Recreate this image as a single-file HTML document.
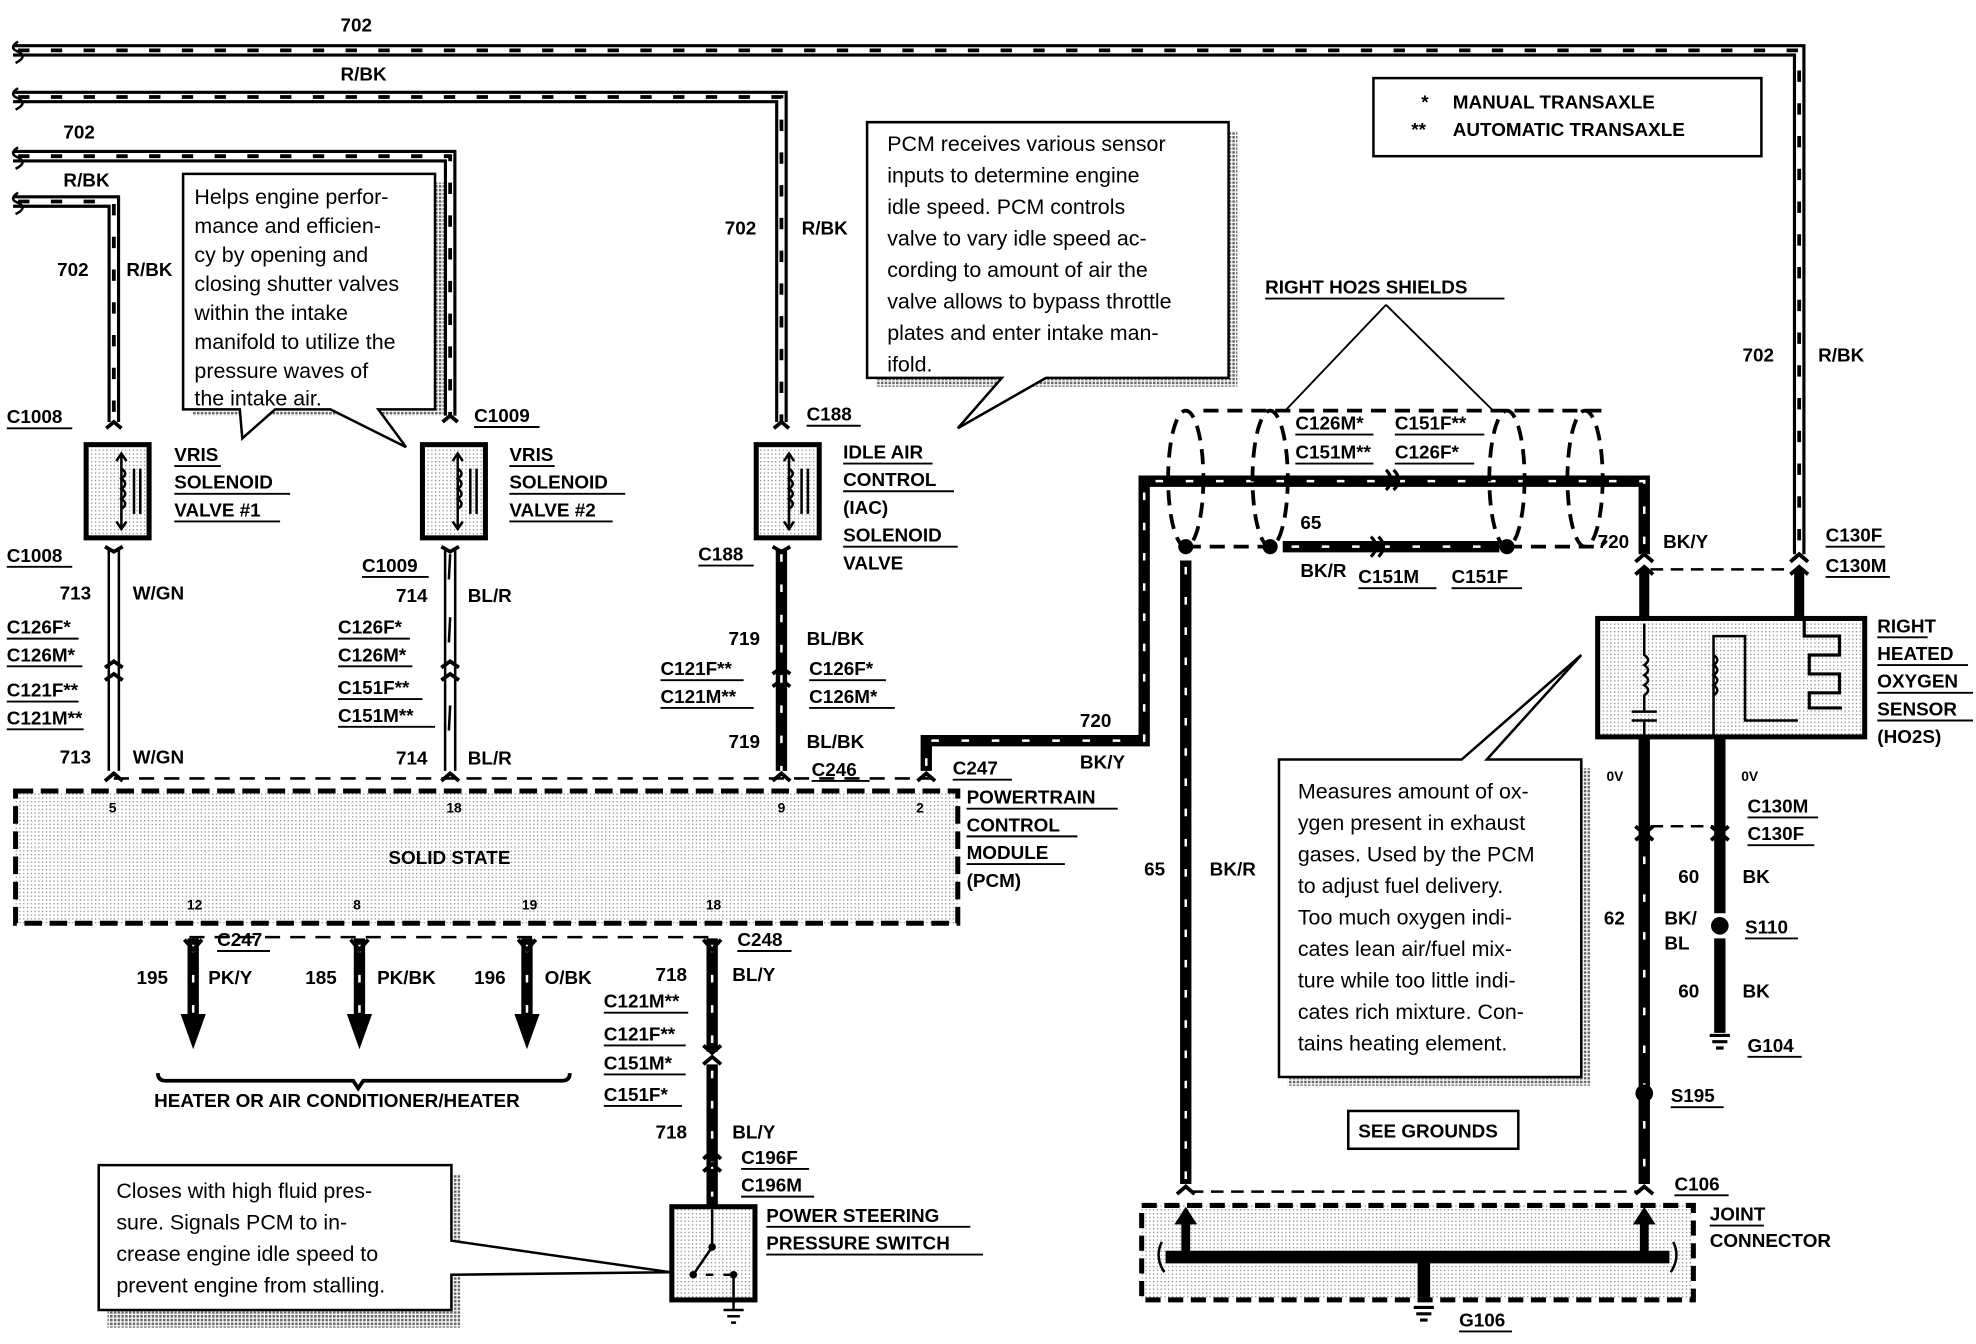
<!DOCTYPE html>
<html><head><meta charset="utf-8"><style>
html,body{margin:0;padding:0;background:#fff;}
svg{display:block;}
text{font-family:"Liberation Sans",sans-serif;fill:#000;}
.b{font-weight:bold;font-size:15px;}
.c{font-size:17px;}
.s{font-size:11px;font-weight:bold;}
</style></head><body>
<svg width="1976" height="1344" viewBox="0 0 1568 1067" xmlns="http://www.w3.org/2000/svg">
<defs>
<pattern id="dot" width="3" height="3" patternUnits="userSpaceOnUse"><rect width="3" height="3" fill="#fff"/><rect width="1" height="1" fill="#888"/></pattern>
<pattern id="sh" width="3" height="3" patternUnits="userSpaceOnUse"><rect width="3" height="3" fill="#fff"/><rect width="2" height="2" fill="#666"/></pattern>
</defs>
<rect width="1568" height="1067" fill="#fff"/>

<g fill="none" stroke-linejoin="miter">
<g stroke="#000" stroke-width="10">
<path d="M10 40 H1428 V440"/>
<path d="M10 77 H620 V335"/>
<path d="M10 124 H357 V330"/>
<path d="M10 160 H90 V335"/>
</g>
<g stroke="#fff" stroke-width="5">
<path d="M10 40 H1428 V440"/>
<path d="M10 77 H620 V335"/>
<path d="M10 124 H357 V330"/>
<path d="M10 160 H90 V335"/>
</g>
<g stroke="#000" stroke-width="3" stroke-dasharray="9 17">
<path d="M14 40 H1428 V440"/>
<path d="M14 77 H620 V335"/>
<path d="M14 124 H357 V330"/>
<path d="M14 160 H90 V335"/>
</g>
</g>
<g fill="none" stroke="#000" stroke-width="2">
<path d="M14 33 q-8 5 0 8 q8 4 -2 9"/>
<path d="M14 70 q-8 5 0 8 q8 4 -2 9"/>
<path d="M14 117 q-8 5 0 8 q8 4 -2 9"/>
<path d="M14 153 q-8 5 0 8 q8 4 -2 9"/>
</g>

<text class="b" x="270" y="25">702</text>
<text class="b" x="270" y="64">R/BK</text>
<text class="b" x="50" y="110">702</text>
<text class="b" x="50" y="148">R/BK</text>
<text class="b" x="45" y="219">702</text>
<text class="b" x="100" y="219">R/BK</text>
<text class="b" x="575" y="186">702</text>
<text class="b" x="636" y="186">R/BK</text>
<text class="b" x="1383" y="287">702</text>
<text class="b" x="1443" y="287">R/BK</text>

<rect x="1090" y="62" width="308" height="62" fill="#fff" stroke="#000" stroke-width="2"/>
<text class="b" x="1128" y="86">*</text><text class="b" x="1153" y="86">MANUAL TRANSAXLE</text>
<text class="b" x="1120" y="108">**</text><text class="b" x="1153" y="108">AUTOMATIC TRANSAXLE</text>

<rect x="152" y="145" width="200" height="185" fill="url(#sh)"/>
<path d="M145 138 H345 V325 H300 L322 355 L262 325 H218 L192 348 L190 325 H145 Z" fill="#fff" stroke="#000" stroke-width="2"/>
<text class="c" x="154" y="162">Helps engine perfor-</text>
<text class="c" x="154" y="185">mance  and efficien-</text>
<text class="c" x="154" y="208">cy by opening and</text>
<text class="c" x="154" y="231">closing shutter valves</text>
<text class="c" x="154" y="254">within the intake</text>
<text class="c" x="154" y="277">manifold to utilize the</text>
<text class="c" x="154" y="300">pressure waves of</text>
<text class="c" x="154" y="322">the intake air.</text>

<rect x="695" y="104" width="287" height="203" fill="url(#sh)"/>
<path d="M688 97 H975 V300 H830 L760 340 L795 300 H688 Z" fill="#fff" stroke="#000" stroke-width="2"/>
<text class="c" x="704" y="120">PCM receives various sensor</text>
<text class="c" x="704" y="145">inputs to determine engine</text>
<text class="c" x="704" y="170">idle speed.  PCM controls</text>
<text class="c" x="704" y="195">valve to vary idle speed ac-</text>
<text class="c" x="704" y="220">cording to amount of air the</text>
<text class="c" x="704" y="245">valve allows to bypass throttle</text>
<text class="c" x="704" y="270">plates and enter intake man-</text>
<text class="c" x="704" y="295">ifold.</text>

<g stroke="#000">
<rect x="68" y="353" width="50" height="74" fill="url(#dot)" stroke-width="4"/>
<rect x="335" y="353" width="50" height="74" fill="url(#dot)" stroke-width="4"/>
<rect x="600" y="353" width="50" height="74" fill="url(#dot)" stroke-width="4"/>
</g>
<g fill="none" stroke="#000" stroke-width="2">
<path d="M96 360 V420 M92 366 l4 -6 4 6 M92 414 l4 6 4 -6 M96 372 q6 4 0 8 q6 4 0 8 q6 4 0 8 q6 4 0 8"/>
<path d="M106 372 V408 M111 372 V408"/>
<path d="M363 360 V420 M359 366 l4 -6 4 6 M359 414 l4 6 4 -6 M363 372 q6 4 0 8 q6 4 0 8 q6 4 0 8 q6 4 0 8"/>
<path d="M373 372 V408 M378 372 V408"/>
<path d="M626 360 V420 M622 366 l4 -6 4 6 M622 414 l4 6 4 -6 M626 372 q6 4 0 8 q6 4 0 8 q6 4 0 8 q6 4 0 8"/>
<path d="M636 372 V408 M641 372 V408"/>
</g>
<g fill="none" stroke="#000" stroke-width="3">
<path d="M84 340 l6 -5 6 5 M351 335 l6 -5 6 5 M614 340 l6 -5 6 5 M1422 445 l6 -5 6 5"/>
</g>

<text class="b" x="5" y="336">C1008</text>
<text class="b" x="376" y="335">C1009</text>
<text class="b" x="640" y="334">C188</text>
<text class="b" x="138" y="366">VRIS</text>
<text class="b" x="138" y="388">SOLENOID</text>
<text class="b" x="138" y="410">VALVE #1</text>
<text class="b" x="404" y="366">VRIS</text>
<text class="b" x="404" y="388">SOLENOID</text>
<text class="b" x="404" y="410">VALVE #2</text>
<text class="b" x="669" y="364">IDLE AIR</text>
<text class="b" x="669" y="386">CONTROL</text>
<text class="b" x="669" y="408">(IAC)</text>
<text class="b" x="669" y="430">SOLENOID</text>
<text class="b" x="669" y="452">VALVE</text>
<g stroke="#000" stroke-width="1.5">
<path d="M5 340 H57 M376 339 H428 M640 338 H683 M138 370 H175 M138 392 H230 M138 414 H222 M404 370 H440 M404 392 H496 M404 414 H486 M669 368 H740 M669 390 H757 M669 434 H760"/>
</g>

<g fill="none" stroke="#000" stroke-width="2">
<path d="M86 436 V612 M94 436 V612"/>
<path d="M353 436 V612 M361 436 V612"/>
</g>
<path d="M357 440 l-1 20 M357 490 l-1 20 M357 560 l-1 20" stroke="#000" stroke-width="2"/>
<g fill="none" stroke="#000" stroke-width="3">
<path d="M83 434 l7 4 7 -4 M83 530 l7 -5 7 5 M83 540 l7 -5 7 5 M83 620 l7 -6 7 6"/>
<path d="M350 434 l7 4 7 -4 M350 530 l7 -5 7 5 M350 540 l7 -5 7 5 M350 620 l7 -6 7 6"/>
<path d="M613 434 l7 4 7 -4 M613 535 l7 -5 7 5 M613 545 l7 -5 7 5 M613 620 l7 -6 7 6 M728 620 l7 -6 7 6"/>
</g>
<g fill="none" stroke="#000" stroke-width="9">
<path d="M620 436 V612"/>
<path d="M735 612 V588 H908 V382 H1305 V440"/>
<path d="M565 745 V835 M565 845 V957"/>
<path d="M153 745 V805 M285 745 V805 M418 745 V805"/>
</g>
<g fill="none" stroke="#fff" stroke-width="2" stroke-dasharray="6 18">
<path d="M620 440 V612"/>
<path d="M735 608 V588 H908 V382 H1305 V440"/>
<path d="M565 750 V835 M565 850 V950"/>
<path d="M153 750 V805 M285 750 V805 M418 750 V805"/>
</g>
<path d="M90 618 H740 M150 744 H565" stroke="#000" stroke-width="2" stroke-dasharray="12 8" fill="none"/>
<g fill="#000"><path d="M143 805 h20 l-10 28 z"/><path d="M275 805 h20 l-10 28 z"/><path d="M408 805 h20 l-10 28 z"/></g>
<path d="M125 852 q0 6 6 6 H280 l4 6 4 -6 H446 q6 0 6 -6" fill="none" stroke="#000" stroke-width="3"/>
<g fill="none" stroke="#000" stroke-width="3"><path d="M146 746 l7 8 7 -8 M278 746 l7 8 7 -8 M411 746 l7 8 7 -8 M558 746 l7 8 7 -8 M558 830 l7 6 7 -6 M558 845 l7 -6 7 6 M558 920 l7 -6 7 6"/></g>
<path d="M558 930 l7 -6 7 6" fill="none" stroke="#000" stroke-width="3"/>

<rect x="12" y="628" width="748" height="105" fill="url(#dot)" stroke="#000" stroke-width="4" stroke-dasharray="14 6"/>
<text class="b" x="308" y="686">SOLID STATE</text>
<text class="s" x="86" y="645">5</text><text class="s" x="354" y="645">18</text><text class="s" x="617" y="645">9</text><text class="s" x="727" y="645">2</text>
<text class="s" x="148" y="722">12</text><text class="s" x="280" y="722">8</text><text class="s" x="414" y="722">19</text><text class="s" x="560" y="722">18</text>
<text class="b" x="767" y="638">POWERTRAIN</text>
<text class="b" x="767" y="660">CONTROL</text>
<text class="b" x="767" y="682">MODULE</text>
<text class="b" x="767" y="704">(PCM)</text>
<path d="M767 642 H887 M767 664 H855 M767 686 H845" stroke="#000" stroke-width="1.5"/>

<text class="b" x="47" y="476">713</text><text class="b" x="105" y="476">W/GN</text>
<text class="b" x="5" y="503">C126F*</text><text class="b" x="5" y="525">C126M*</text>
<text class="b" x="5" y="553">C121F**</text><text class="b" x="5" y="575">C121M**</text>
<text class="b" x="47" y="606">713</text><text class="b" x="105" y="606">W/GN</text>
<text class="b" x="5" y="446">C1008</text>
<text class="b" x="287" y="454">C1009</text>
<text class="b" x="314" y="478">714</text><text class="b" x="371" y="478">BL/R</text>
<text class="b" x="268" y="503">C126F*</text><text class="b" x="268" y="525">C126M*</text>
<text class="b" x="268" y="551">C151F**</text><text class="b" x="268" y="573">C151M**</text>
<text class="b" x="314" y="607">714</text><text class="b" x="371" y="607">BL/R</text>
<text class="b" x="554" y="445">C188</text>
<text class="b" x="578" y="512">719</text><text class="b" x="640" y="512">BL/BK</text>
<text class="b" x="524" y="536">C121F**</text><text class="b" x="524" y="558">C121M**</text>
<text class="b" x="642" y="536">C126F*</text><text class="b" x="642" y="558">C126M*</text>
<text class="b" x="578" y="594">719</text><text class="b" x="640" y="594">BL/BK</text>
<text class="b" x="644" y="616">C246</text>
<text class="b" x="756" y="615">C247</text>
<text class="b" x="857" y="577">720</text>
<text class="b" x="857" y="610">BK/Y</text>
<g stroke="#000" stroke-width="1.5">
<path d="M5 450 H57 M5 507 H62 M5 529 H65 M5 557 H62 M5 579 H66 M287 458 H340 M268 507 H325 M268 529 H327 M268 555 H335 M268 577 H345 M554 449 H598 M524 540 H590 M524 562 H598 M642 540 H703 M642 562 H710 M644 620 H690 M756 619 H803"/>
</g>
<text class="b" x="172" y="751">C247</text>
<text class="b" x="108" y="781">195</text><text class="b" x="165" y="781">PK/Y</text>
<text class="b" x="242" y="781">185</text><text class="b" x="299" y="781">PK/BK</text>
<text class="b" x="376" y="781">196</text><text class="b" x="432" y="781">O/BK</text>
<text class="b" x="585" y="751">C248</text>
<text class="b" x="520" y="779">718</text><text class="b" x="581" y="779">BL/Y</text>
<text class="b" x="479" y="800">C121M**</text>
<text class="b" x="479" y="826">C121F**</text>
<text class="b" x="479" y="849">C151M*</text>
<text class="b" x="479" y="874">C151F*</text>
<text class="b" x="122" y="879">HEATER OR AIR CONDITIONER/HEATER</text>
<text class="b" x="520" y="904">718</text><text class="b" x="581" y="904">BL/Y</text>
<text class="b" x="588" y="924">C196F</text>
<text class="b" x="588" y="946">C196M</text>
<text class="b" x="608" y="970">POWER STEERING</text>
<text class="b" x="608" y="992">PRESSURE SWITCH</text>
<g stroke="#000" stroke-width="1.5">
<path d="M172 755 H214 M585 755 H628 M479 804 H546 M479 830 H544 M479 853 H544 M479 878 H541 M588 928 H642 M588 950 H646 M608 974 H770 M608 996 H780"/>
</g>
<rect x="533" y="958" width="66" height="74" fill="url(#dot)" stroke="#000" stroke-width="4"/>
<path d="M565 960 V990 L550 1012 M582 1030 V1012 h-8 M560 1012 h6" stroke="#000" stroke-width="2" fill="none"/>
<circle cx="565" cy="990" r="3"/><circle cx="550" cy="1012" r="3"/><circle cx="582" cy="1012" r="3"/>
<path d="M574 1040 h16 M577 1045 h10 M580 1050 h4 M582 1032 v8" stroke="#000" stroke-width="2"/>
<rect x="85" y="932" width="280" height="122" fill="url(#sh)"/>
<path d="M78 925 H358 V985 L532 1010 L358 1012 V1040 H78 Z" fill="#fff" stroke="#000" stroke-width="2"/>
<text class="c" x="92" y="951">Closes with high fluid pres-</text>
<text class="c" x="92" y="976">sure.  Signals PCM to in-</text>
<text class="c" x="92" y="1001">crease engine idle speed to</text>
<text class="c" x="92" y="1026">prevent engine from stalling.</text>

<text class="b" x="1004" y="233">RIGHT HO2S SHIELDS</text>
<path d="M1004 237 H1194" stroke="#000" stroke-width="1.5"/>
<path d="M1100 242 L1020 326 M1100 242 L1185 326" stroke="#000" stroke-width="1.5"/>
<g fill="none" stroke="#000" stroke-width="3" stroke-dasharray="12 7">
<path d="M955 326 H1275"/>
<ellipse cx="941" cy="380" rx="14" ry="54"/>
<ellipse cx="1008" cy="380" rx="14" ry="54"/>
<ellipse cx="1196" cy="380" rx="14" ry="54"/>
<ellipse cx="1258" cy="380" rx="14" ry="54"/>
<path d="M941 434 H1008 M1196 434 H1270 l5 -5"/>
</g>
<g fill="none" stroke="#000" stroke-width="9"><path d="M1018 434 H1190"/><path d="M941 445 V940"/></g>
<path d="M941 450 V940 M1025 434 H1190" stroke="#fff" stroke-width="2" stroke-dasharray="6 18" fill="none"/>
<circle cx="941" cy="434" r="6"/><circle cx="1008" cy="434" r="6"/><circle cx="1196" cy="434" r="6"/>
<path d="M1088 426 q8 8 0 16 M1094 426 q8 8 0 16 M1100 373 q8 8 0 16 M1106 373 q8 8 0 16" fill="none" stroke="#000" stroke-width="2.5"/>
<text class="b" x="1028" y="341">C126M*</text><text class="b" x="1107" y="341">C151F**</text>
<text class="b" x="1028" y="364">C151M**</text><text class="b" x="1107" y="364">C126F*</text>
<text class="b" x="1032" y="420">65</text>
<text class="b" x="1032" y="458">BK/R</text><text class="b" x="1078" y="463">C151M</text><text class="b" x="1152" y="463">C151F</text>
<path d="M1028 345 H1090 M1107 345 H1178 M1028 368 H1090 M1107 368 H1170 M1078 467 H1140 M1152 467 H1208" stroke="#000" stroke-width="1.5"/>
<text class="b" x="1268" y="435">720</text><text class="b" x="1320" y="435">BK/Y</text>
<text class="b" x="1449" y="430">C130F</text><text class="b" x="1449" y="454">C130M</text>
<path d="M1449 434 H1496 M1449 458 H1500" stroke="#000" stroke-width="1.5"/>

<path d="M1305 452 V490 M1428 452 V490" stroke="#000" stroke-width="8"/>
<g fill="none" stroke="#000" stroke-width="3"><path d="M1298 446 l7 -6 7 6 M1421 446 l7 -6 7 6 M1298 456 l7 -6 7 6 M1421 456 l7 -6 7 6"/></g>
<path d="M1310 452 H1421" stroke="#000" stroke-width="2" stroke-dasharray="10 6"/>
<rect x="1268" y="491" width="212" height="94" fill="url(#dot)" stroke="#000" stroke-width="4"/>
<path d="M1305 495 V520 q6 4 0 8 q6 4 0 8 q6 4 0 8 q6 4 0 8 V565 M1295 565 h20 M1295 572 h20 M1305 572 V585" fill="none" stroke="#000" stroke-width="2"/>
<path d="M1360 585 V505 h25 V572 h42 M1360 520 q6 4 0 8 q6 4 0 8 q6 4 0 8 q6 4 0 8" fill="none" stroke="#000" stroke-width="2"/>
<path d="M1432 492 V505 h28 V520 h-24 V535 h24 V550 h-24 V562 h26" fill="none" stroke="#000" stroke-width="2.5"/>
<text class="b" x="1490" y="502">RIGHT</text><text class="b" x="1490" y="524">HEATED</text><text class="b" x="1490" y="546">OXYGEN</text><text class="b" x="1490" y="568">SENSOR</text><text class="b" x="1490" y="590">(HO2S)</text>
<path d="M1490 506 H1530 M1490 528 H1562 M1490 550 H1566 M1490 572 H1566" stroke="#000" stroke-width="1.5"/>
<path d="M1305 585 V940 M1365 585 V725 M1365 745 V820" stroke="#000" stroke-width="9"/>
<path d="M1305 680 V940" stroke="#fff" stroke-width="2" stroke-dasharray="6 24"/>
<path d="M1310 656 H1360" stroke="#000" stroke-width="2" stroke-dasharray="10 6"/>
<g fill="none" stroke="#000" stroke-width="3"><path d="M1298 656 l7 6 7 -6 M1358 656 l7 6 7 -6 M1298 667 l7 -6 7 6 M1358 667 l7 -6 7 6"/></g>
<circle cx="1365" cy="735" r="7"/><circle cx="1305" cy="868" r="7"/>
<path d="M1357 822 h16 M1359 827 h12 M1362 832 h6" stroke="#000" stroke-width="2.5"/>
<text class="s" x="1275" y="620">0V</text><text class="s" x="1382" y="620">0V</text>
<text class="b" x="1387" y="645">C130M</text><text class="b" x="1387" y="667">C130F</text>
<path d="M1387 649 H1443 M1387 671 H1440" stroke="#000" stroke-width="1.5"/>
<text class="b" x="1332" y="701">60</text><text class="b" x="1383" y="701">BK</text>
<text class="b" x="1273" y="734">62</text><text class="b" x="1321" y="734">BK/</text><text class="b" x="1321" y="754">BL</text>
<text class="b" x="1385" y="741">S110</text><path d="M1385 745 H1427" stroke="#000" stroke-width="1.5"/>
<text class="b" x="1332" y="792">60</text><text class="b" x="1383" y="792">BK</text>
<text class="b" x="1387" y="835">G104</text><path d="M1387 839 H1430" stroke="#000" stroke-width="1.5"/>
<text class="b" x="1326" y="875">S195</text><path d="M1326 879 H1368" stroke="#000" stroke-width="1.5"/>
<text class="b" x="908" y="695">65</text><text class="b" x="960" y="695">BK/R</text>

<rect x="1022" y="610" width="240" height="252" fill="url(#sh)"/>
<path d="M1015 603 H1160 L1255 520 L1180 603 H1255 V855 H1015 Z" fill="#fff" stroke="#000" stroke-width="2"/>
<text class="c" x="1030" y="634">Measures amount of ox-</text>
<text class="c" x="1030" y="659">ygen present in exhaust</text>
<text class="c" x="1030" y="684">gases. Used by the PCM</text>
<text class="c" x="1030" y="709">to adjust fuel delivery.</text>
<text class="c" x="1030" y="734">Too much oxygen indi-</text>
<text class="c" x="1030" y="759">cates lean air/fuel mix-</text>
<text class="c" x="1030" y="784">ture while too little indi-</text>
<text class="c" x="1030" y="809">cates rich mixture.  Con-</text>
<text class="c" x="1030" y="834">tains heating element.</text>

<rect x="1070" y="882" width="135" height="30" fill="#fff" stroke="#000" stroke-width="2"/>
<text class="b" x="1078" y="903">SEE GROUNDS</text>

<path d="M945 946 H1302" stroke="#000" stroke-width="2" stroke-dasharray="10 6"/>
<g fill="none" stroke="#000" stroke-width="3"><path d="M934 948 l7 -6 7 6 M1298 948 l7 -6 7 6"/></g>
<rect x="906" y="957" width="438" height="75" fill="url(#dot)" stroke="#000" stroke-width="4" stroke-dasharray="12 6"/>
<path d="M925 998 H1325 M1130 998 V1030" stroke="#000" stroke-width="10"/>
<path d="M941 998 V970 M1305 998 V970" stroke="#000" stroke-width="7"/>
<path d="M932 972 l9 -14 9 14 z M1296 972 l9 -14 9 14 z"/>
<path d="M922 986 q-6 12 2 24 M1328 986 q6 12 -2 24" fill="none" stroke="#000" stroke-width="2"/>
<path d="M1122 1038 h16 M1124 1043 h12 M1127 1048 h6" stroke="#000" stroke-width="2.5"/>
<text class="b" x="1329" y="945">C106</text><path d="M1329 949 H1372" stroke="#000" stroke-width="1.5"/>
<text class="b" x="1357" y="969">JOINT</text><text class="b" x="1357" y="990">CONNECTOR</text>
<path d="M1357 973 H1400" stroke="#000" stroke-width="1.5"/>
<text class="b" x="1158" y="1053">G106</text><path d="M1158 1057 H1200" stroke="#000" stroke-width="1.5"/>
</svg>
</body></html>
